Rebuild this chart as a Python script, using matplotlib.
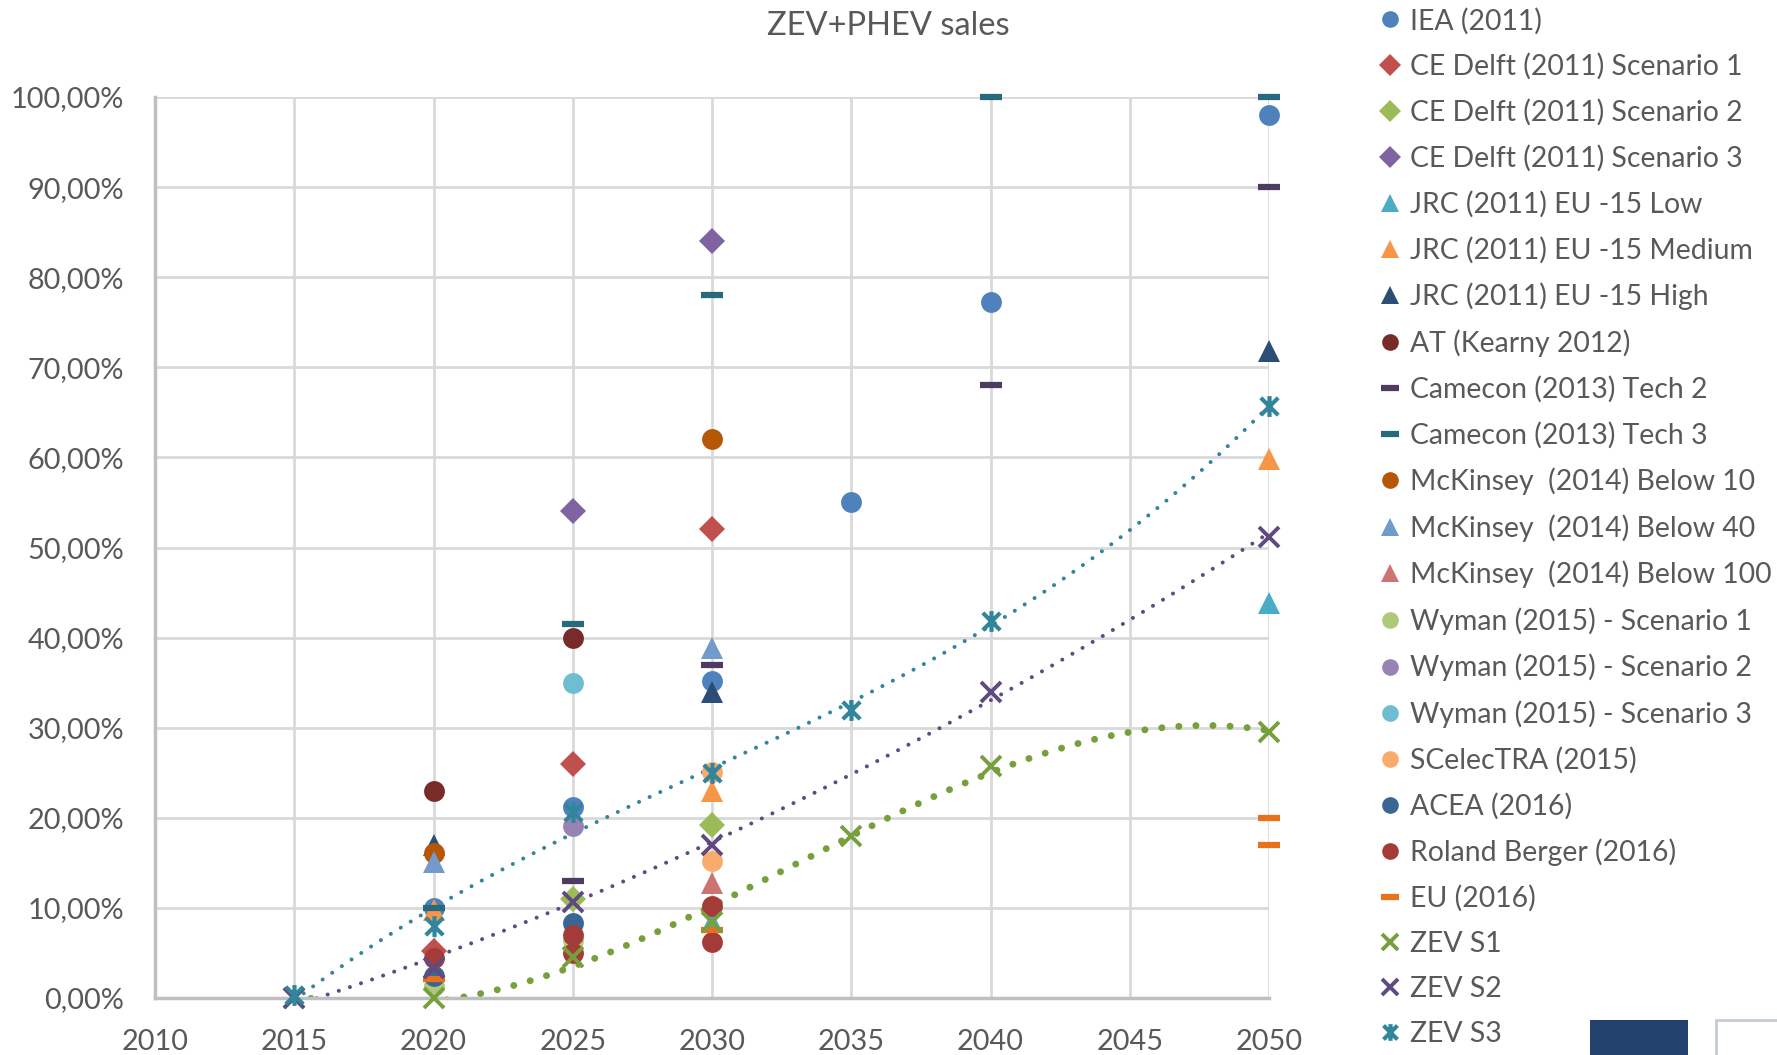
import numpy as np
import matplotlib
matplotlib.use("Agg")
import matplotlib.pyplot as plt
from matplotlib.path import Path
from matplotlib.patches import Rectangle

plt.rcParams['font.family'] = ['Lato', 'DejaVu Sans']

# ---- data (share of new sales, %) ----
iea_x = [2020, 2025, 2030, 2035, 2040, 2050]
iea_y = [10, 21.2, 35.2, 55, 77.3, 98]
ced1_x = [2020, 2025, 2030]
ced1_y = [5.2, 26, 52]
ced2_x = [2025, 2030]
ced2_y = [11, 19.2]
ced3_x = [2025, 2030]
ced3_y = [54, 84]
jrc_low_x = [2020, 2030, 2050]
jrc_low_y = [3.1, 8.4, 43.8]
jrc_med_x = [2020, 2030, 2050]
jrc_med_y = [9.8, 23, 59.8]
jrc_high_x = [2020, 2030, 2050]
jrc_high_y = [17, 34, 71.8]
kearny_x = [2020, 2025]
kearny_y = [23, 40]
cam2_x = [2025, 2030, 2040, 2050]
cam2_y = [13, 37, 68, 90]
cam3_x = [2020, 2025, 2030, 2040, 2050]
cam3_y = [10, 41.5, 78, 100, 100]
mck10_x = [2020, 2030]
mck10_y = [16.1, 62]
mck40_x = [2020, 2030]
mck40_y = [15.1, 38.8]
mck100_x = [2030]
mck100_y = [12.8]
wym1_x = [2020, 2025]
wym1_y = [1.3, 6.4]
wym2_x = [2025]
wym2_y = [19.1]
wym3_x = [2025]
wym3_y = [35]
scel_x = [2030, 2030]
scel_y = [25.1, 15.2]
acea_x = [2020, 2025]
acea_y = [2.4, 8.3]
rb_x = [2020, 2025, 2025, 2030, 2030]
rb_y = [4.4, 7.0, 5.0, 10.2, 6.2]
eu_x = [2020, 2030, 2050, 2050]
eu_y = [2.1, 7.6, 20, 17]
zev1_x = [2015, 2020, 2025, 2030, 2035, 2040, 2050]
zev1_y = [0, 0, 4.6, 8.4, 18, 25.8, 29.5]
zev2_x = [2015, 2020, 2025, 2030, 2040, 2050]
zev2_y = [0, 3.3, 10.7, 17, 34, 51.2]
zev3_x = [2015, 2020, 2025, 2030, 2035, 2040, 2050]
zev3_y = [0.3, 8, 20.6, 25, 32, 41.8, 65.7]

# six-arm asterisk like the Excel "*" marker
star = Path([(-1, -1), (1, 1), (-1, 1), (1, -1), (0, -1.2), (0, 1.2)],
            [Path.MOVETO, Path.LINETO, Path.MOVETO, Path.LINETO, Path.MOVETO, Path.LINETO])

series = [
    ("IEA (2011)", iea_x, iea_y, 'o', '#4F81BD'),
    ("CE Delft (2011) Scenario 1", ced1_x, ced1_y, 'D', '#C0504D'),
    ("CE Delft (2011) Scenario 2", ced2_x, ced2_y, 'D', '#9BBB59'),
    ("CE Delft (2011) Scenario 3", ced3_x, ced3_y, 'D', '#8064A2'),
    ("JRC (2011) EU -15 Low", jrc_low_x, jrc_low_y, '^', '#4BACC6'),
    ("JRC (2011) EU -15 Medium", jrc_med_x, jrc_med_y, '^', '#F79646'),
    ("JRC (2011) EU -15 High", jrc_high_x, jrc_high_y, '^', '#2C4D75'),
    ("AT (Kearny 2012)", kearny_x, kearny_y, 'o', '#772C2A'),
    ("Camecon (2013) Tech 2", cam2_x, cam2_y, '_', '#4D3B62'),
    ("Camecon (2013) Tech 3", cam3_x, cam3_y, '_', '#276A7C'),
    ("McKinsey  (2014) Below 10", mck10_x, mck10_y, 'o', '#B65708'),
    ("McKinsey  (2014) Below 40", mck40_x, mck40_y, '^', '#729ACA'),
    ("McKinsey  (2014) Below 100", mck100_x, mck100_y, '^', '#CD7371'),
    ("Wyman (2015) - Scenario 1", wym1_x, wym1_y, 'o', '#AFC97A'),
    ("Wyman (2015) - Scenario 2", wym2_x, wym2_y, 'o', '#9983B5'),
    ("Wyman (2015) - Scenario 3", wym3_x, wym3_y, 'o', '#6FBDD1'),
    ("SCelecTRA (2015)", scel_x, scel_y, 'o', '#F9AB6B'),
    ("ACEA (2016)", acea_x, acea_y, 'o', '#3A6595'),
    ("Roland Berger (2016)", rb_x, rb_y, 'o', '#A33B39'),
    ("EU (2016)", eu_x, eu_y, '_', '#E8711C'),
    ("ZEV S1", zev1_x, zev1_y, 'x', '#77A03C'),
    ("ZEV S2", zev2_x, zev2_y, 'x', '#5F4A82'),
    ("ZEV S3", zev3_x, zev3_y, star, '#31859C'),
]

fig = plt.figure(figsize=(17.77, 10.55), dpi=100)
ax = fig.add_axes([155/1777, 57/1055, (1269-155)/1777, (998-97)/1055])

handles = []
for label, xs, ys, mk, col in series:
    if mk == 'o':
        kw = dict(markersize=15)
    elif mk == 'D':
        kw = dict(markersize=13.5)
    elif mk == '^':
        kw = dict(markersize=16.5)
    elif mk == '_':
        kw = dict(markersize=16, markeredgewidth=4.5)
    elif mk == 'x':
        kw = dict(markersize=14, markeredgewidth=2.8)
    else:
        kw = dict(markersize=15, markeredgewidth=3.0, markerfacecolor='none')
    if mk in ('o', 'D', '^'):
        kw['markeredgewidth'] = 0
    h, = ax.plot(xs, ys, linestyle='none', marker=mk, color=col,
                 label=label, clip_on=False, zorder=3, **kw)
    handles.append(h)

# polynomial trendlines of the ZEV series (dotted, as in the Excel chart)
xx = np.linspace(2015, 2050, 300)
for xs, ys, deg, col, lw, gap in [(zev1_x, zev1_y, 3, '#77A03C', 5.0, 2.45),
                                  (zev2_x, zev2_y, 2, '#5F4A82', 2.9, 2.9),
                                  (zev3_x, zev3_y, 3, '#31859C', 2.9, 2.9)]:
    p = np.polyfit(np.array(xs) - 2015, ys, deg)
    ln, = ax.plot(xx, np.polyval(p, xx - 2015), color=col, linewidth=lw,
                  dash_capstyle='round', zorder=2)
    ln.set_dashes((0.01, gap))

ax.set_xlim(2010, 2050)
ax.set_ylim(0, 100)
ax.set_xticks(np.arange(2010, 2051, 5))
ax.set_yticks(np.arange(0, 101, 10))
ax.set_yticklabels([f"{v:.2f}%".replace('.', ',') for v in np.arange(0, 101, 10)])
ax.grid(True, color='#D9D9D9', linewidth=2)
ax.set_axisbelow(True)
for s in ['top', 'right']:
    ax.spines[s].set_visible(False)
for s in ['left', 'bottom']:
    ax.spines[s].set_color('#BFBFBF')
    ax.spines[s].set_linewidth(2.5)
ax.tick_params(length=0, labelsize=20.8, labelcolor='#595959')
ax.tick_params(axis='x', pad=22)
ax.tick_params(axis='y', pad=22)

fig.text(888/1777, 1 - 26/1055, "ZEV+PHEV sales", ha='center', va='center',
         fontsize=23.5, color='#595959')

fig.legend(handles=handles, loc='upper left', bbox_to_anchor=(1379/1777, 0.993),
           frameon=False, fontsize=20.4, labelspacing=0.67, handlelength=0.8,
           handletextpad=0.3, borderpad=0, borderaxespad=0, numpoints=1,
           markerscale=0.8, labelcolor='#595959')

# cut-off logo in the bottom-right corner
fig.patches.append(Rectangle((1590/1777, 0), 98/1777, 35/1055, transform=fig.transFigure,
                             facecolor='#24426E', edgecolor='none'))
fig.patches.append(Rectangle((1716/1777, -0.01), 70/1777, 35/1055 + 0.01, transform=fig.transFigure,
                             facecolor='none', edgecolor='#C5CCD8', linewidth=2))

fig.savefig("out.png", dpi=100)
